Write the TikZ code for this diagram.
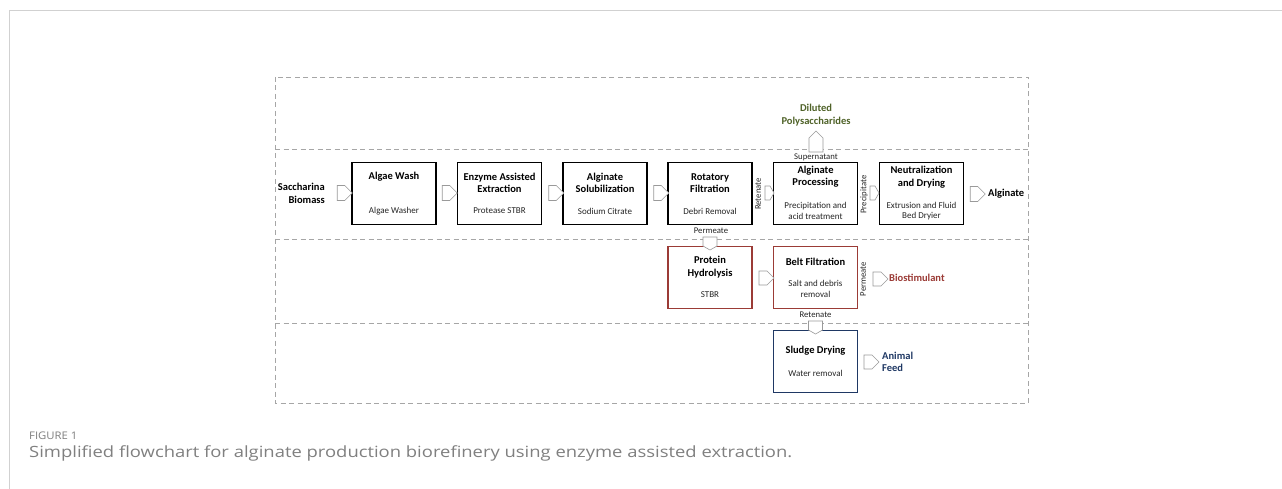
\documentclass[tikz,border=0pt]{standalone}
\usepackage{fontspec}
\setmainfont{Carlito}
\newfontfamily\capfont{Open Sans}
\usetikzlibrary{shapes.symbols}
\definecolor{dashgray}{HTML}{A6A6A6}
\definecolor{olivegreen}{HTML}{4F6228}
\definecolor{brick}{HTML}{9B3B36}
\definecolor{navyblue}{HTML}{1F3864}
\definecolor{capgray}{HTML}{808080}
\definecolor{arrgray}{HTML}{9A9A9A}
\begin{document}
\begin{tikzpicture}[x=1pt,y=-1pt,
 proc/.style={draw, line width=1.7pt, minimum width=84pt, minimum height=62pt, inner sep=0pt},
 ttl/.style={font=\fontsize{10.5}{12.5}\selectfont\bfseries, align=center, inner sep=0pt},
 subt/.style={font=\fontsize{9}{10.5}\selectfont, align=center, inner sep=0pt, text=black!85},
 lbl/.style={font=\fontsize{8.7}{9}\selectfont, inner sep=0pt, text=black!85},
 outtxt/.style={font=\fontsize{10.5}{13}\selectfont\bfseries, inner sep=0pt},
 sig/.style={draw=arrgray, fill=white, shape=signal, inner sep=0pt, line width=0.6pt,
   minimum width=15pt, minimum height=15pt, signal pointer angle=90},
 sigthin/.style={sig, minimum width=9pt, minimum height=14pt, signal pointer angle=120},
 band/.style={dashgray, line width=0.8pt, dash pattern=on 5pt off 3.5pt}]

\useasboundingbox (0,0) rectangle (1282,489);
\fill[white] (0,0) rectangle (1282,489);
% page frame
\draw[black!18, line width=1pt] (9.5,489) -- (9.5,10.5) -- (1282,10.5);

% dashed bands
\draw[band] (275,77) rectangle (1028,403);
\draw[band] (275,149) -- (1028,149);
\draw[band] (275,239) -- (1028,239);
\draw[band] (275,323) -- (1028,323);

% row 1 boxes
\node[proc] (wash) at (394,193.5) {};
\node[ttl] (wash-t) at (394,177) {Algae Wash};
\node[subt] (wash-s) at (394,211) {Algae Washer};

\node[proc] (enz) at (499.5,193.5) {};
\node[ttl] (enz-t) at (499.5,183) {Enzyme Assisted\\Extraction};
\node[subt] (enz-s) at (499.5,211) {Protease STBR};

\node[proc] (sol) at (605,193.5) {};
\node[ttl] (sol-t) at (605,183) {Alginate\\Solubilization};
\node[subt] (sol-s) at (605,211) {Sodium Citrate};

\node[proc] (rot) at (710,193.5) {};
\node[ttl] (rot-t) at (710,183) {Rotatory\\Filtration};
\node[subt] (rot-s) at (710,211) {Debri Removal};

\node[proc] (alg) at (815.5,193.5) {};
\node[ttl] (alg-t) at (815.5,176.5) {Alginate\\Processing};
\node[subt] (alg-s) at (815.5,211) {Precipitation and\\acid treatment};

\node[proc] (neu) at (921.5,193.5) {};
\node[ttl] (neu-t) at (921.5,177) {Neutralization\\and Drying};
\node[subt] (neu-s) at (921.5,211) {Extrusion and Fluid\\Bed Dryier};

% row 2 boxes
\node[proc, draw=brick] (pro) at (710,277.5) {};
\node[ttl] (pro-t) at (710,267) {Protein\\Hydrolysis};
\node[subt] (pro-s) at (710,295) {STBR};

\node[proc, draw=brick] (belt) at (815.5,277.5) {};
\node[ttl] (belt-t) at (815.5,262) {Belt Filtration};
\node[subt] (belt-s) at (815.5,289) {Salt and debris\\removal};

% row 3 box
\node[proc, draw=navyblue] (slu) at (815.5,361.5) {};
\node[ttl] (slu-t) at (815.5,351) {Sludge Drying};
\node[subt] (slu-s) at (815.5,373) {Water removal};

% input / outputs
\node[outtxt, align=right, anchor=east] (bio) at (325,193.5) {Saccharina\\Biomass};
\node[outtxt, anchor=west] (algout) at (988,194) {Alginate};
\node[outtxt, align=center, text=olivegreen] (dil) at (816,115.5) {Diluted\\Polysaccharides};
\node[outtxt, anchor=west, text=brick] (bst) at (889,278) {Biostimulant};
\node[outtxt, align=left, anchor=west, text=navyblue, font=\fontsize{10.5}{12}\selectfont\bfseries] (feed) at (882,362) {Animal\\Feed};

% stream labels
\node[lbl] (supl) at (816,157) {Supernatant};
\node[lbl, rotate=90] (ret1) at (758,194) {Retenate};
\node[lbl, rotate=90] (prec) at (864,194.5) {Precipitate};
\node[lbl] (perm1) at (711,231) {Permeate};
\node[lbl, rotate=90] (perm2) at (863,279) {Permeate};
\node[lbl] (ret2) at (815.5,315) {Retenate};

% block arrows
\node[sig, signal to=east] (ar0) at (341,193) {};
\node[sig, signal to=east] (ar1) at (446,193) {};
\node[sig, signal to=east] (ar2) at (552.5,193) {};
\node[sig, signal to=east] (ar3) at (657.5,193) {};
\node[sigthin, signal to=east] (ar4) at (767.5,193) {};
\node[sigthin, signal to=east] (ar5) at (872.5,193) {};
\node[sig, signal to=east] (ar6) at (974,194) {};
\node[sig, signal to=north, minimum width=14pt, minimum height=14pt] (arup) at (816,145) {};
\node[sigthin, signal to=south, minimum width=14pt, minimum height=9pt] (ardn1) at (710,241.5) {};
\node[sig, signal to=east, minimum height=14pt] (ar7) at (763,278) {};
\node[sig, signal to=east, minimum height=14pt] (ar8) at (877,279) {};
\node[sigthin, signal to=south, minimum width=14pt, minimum height=9pt] (ardn2) at (815.5,325.5) {};
\node[sig, signal to=east, minimum height=14pt] (ar9) at (868,362) {};

% caption
\node[anchor=base west, inner sep=0pt, text=capgray, font=\capfont\fontsize{10.5}{12}\selectfont] (figlbl) at (29,439) {\scalebox{1.08}[1]{FIGURE 1}};
\node[anchor=base west, inner sep=0pt, text=capgray, font=\capfont\fontsize{15.5}{18}\selectfont] (cap) at (29,457) {\resizebox{763pt}{!}{\scalebox{1}[0.84]{Simplified flowchart for alginate production biorefinery using enzyme assisted extraction.}}};
\end{tikzpicture}
\end{document}
